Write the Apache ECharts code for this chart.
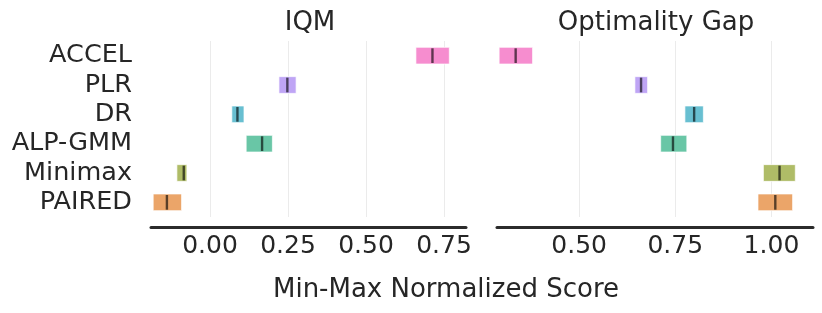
<!DOCTYPE html>
<html><head><meta charset="utf-8">
<script src="https://cdn.jsdelivr.net/npm/echarts@6/dist/echarts.min.js"></script>
<style>html,body{margin:0;padding:0;background:#fff}#c{width:822px;height:313px}</style>
</head><body><div id="c"></div>
<script>
const algorithms = ['ACCEL', 'PLR', 'DR', 'ALP-GMM', 'Minimax', 'PAIRED'];
const colors = ['#f68dcf', '#bfa5f5', '#68bfd1', '#69c6a6', '#afbc67', '#eba569'];
// IQM: lower CI, median, upper CI
const iqmLow = [0.660, 0.221, 0.070, 0.116, -0.106, -0.182];
const iqmMid = [0.713, 0.248, 0.088, 0.167, -0.084, -0.138];
const iqmHigh = [0.767, 0.276, 0.109, 0.200, -0.074, -0.091];
// Optimality gap
const gapLow = [0.292, 0.645, 0.775, 0.712, 0.979, 0.965];
const gapMid = [0.335, 0.661, 0.799, 0.744, 1.021, 1.010];
const gapHigh = [0.379, 0.678, 0.823, 0.780, 1.062, 1.055];
const iqmTicks = [0, 0.25, 0.5, 0.75];
const gapTicks = [0.5, 0.75, 1.0];
const titles = ['IQM', 'Optimality Gap'];
const xName = 'Min-Max Normalized Score';

const textColor = '#262626';
const FONT = 'DejaVu Sans';

function makeData(lo, mid, hi) {
  return algorithms.map((a, i) => [i, lo[i], mid[i], hi[i]]);
}
function renderItem(params, api) {
  const i = api.value(0);
  const p0 = api.coord([api.value(1), i]);
  const p1 = api.coord([api.value(3), i]);
  const pm = api.coord([api.value(2), i]);
  const band = api.size([0, 1])[1];
  const h = band * 0.57;
  return {
    type: 'group',
    children: [
      { type: 'rect', shape: { x: p0[0], y: p0[1] - h / 2, width: p1[0] - p0[0], height: h },
        style: { fill: colors[i], stroke: 'rgba(255,255,255,0.7)', lineWidth: 1 } },
      { type: 'line', shape: { x1: pm[0], y1: pm[1] - h / 2 + 1, x2: pm[0], y2: pm[1] + h / 2 - 1 },
        style: { stroke: 'rgba(0,0,0,0.62)', lineWidth: 2.4 } }
    ]
  };
}
function xAxis(idx, min, max, ticks) {
  return {
    type: 'value', gridIndex: idx, min: min, max: max, offset: 10,
    axisLine: { show: true, lineStyle: { color: '#2b2b2b', width: 3 } },
    axisTick: { show: false, customValues: ticks },
    axisLabel: { customValues: ticks, fontSize: 25, fontFamily: FONT, color: textColor, margin: 7,
      formatter: v => v.toFixed(2) },
    splitLine: { show: true, lineStyle: { color: '#ebebeb', width: 1 } }
  };
}
function yAxis(idx, showLabels) {
  return {
    type: 'category', gridIndex: idx, data: algorithms, inverse: true,
    axisLine: { show: false }, axisTick: { show: false }, splitLine: { show: false },
    axisLabel: { show: showLabels, interval: 0, fontSize: 25.5, fontFamily: FONT, color: textColor,
      margin: 19, padding: [3, 0, 0, 0] }
  };
}
const chart = echarts.init(document.getElementById('c'), null, { renderer: 'canvas' });
chart.setOption({
  animation: false,
  backgroundColor: '#fff',
  textStyle: { fontFamily: FONT },
  title: [
    { text: titles[0], left: 305, top: 5, textAlign: 'center',
      textStyle: { fontSize: 26, fontWeight: 'normal', color: textColor, fontFamily: FONT } },
    { text: titles[1], left: 651, top: 5, textAlign: 'center',
      textStyle: { fontSize: 26, fontWeight: 'normal', color: textColor, fontFamily: FONT } },
    { text: xName, left: 441, top: 272, textAlign: 'center',
      textStyle: { fontSize: 26, fontWeight: 'normal', color: textColor, fontFamily: FONT } }
  ],
  grid: [
    { left: 151, width: 315, top: 41, height: 176 },
    { left: 497, width: 316, top: 41, height: 176 }
  ],
  xAxis: [xAxis(0, -0.189, 0.8205, iqmTicks), xAxis(1, 0.2865, 1.108, gapTicks)],
  yAxis: [yAxis(0, true), yAxis(1, false)],
  series: [
    { type: 'custom', xAxisIndex: 0, yAxisIndex: 0, renderItem: renderItem,
      encode: { x: [1, 2, 3], y: 0 }, data: makeData(iqmLow, iqmMid, iqmHigh) },
    { type: 'custom', xAxisIndex: 1, yAxisIndex: 1, renderItem: renderItem,
      encode: { x: [1, 2, 3], y: 0 }, data: makeData(gapLow, gapMid, gapHigh) }
  ]
});
</script></body></html>
